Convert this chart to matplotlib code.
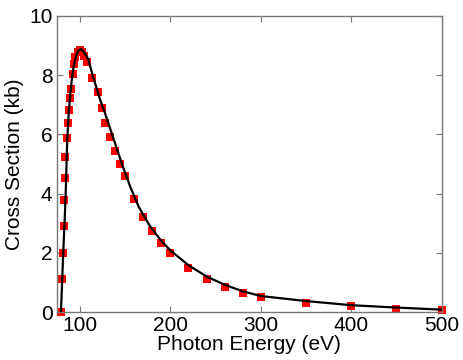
import numpy as np
from matplotlib import pyplot as plt

# measured points (red squares)
energy = [79, 80, 81, 82, 82.7, 83.4, 84, 85.5, 86.5, 87.5, 89, 90.5, 92,
          93.5, 95, 97.5, 100, 102.5, 105, 108, 113, 120, 124, 128, 133,
          139, 144, 150, 160, 170, 180, 190, 200, 220, 240, 260, 280, 300,
          350, 400, 450, 500]
cross_section = [0, 1.13, 2.0, 2.92, 3.79, 4.52, 5.22, 5.87, 6.38, 6.83,
                 7.23, 7.55, 8.03, 8.37, 8.63, 8.80, 8.85, 8.80, 8.65, 8.46,
                 7.92, 7.42, 6.88, 6.37, 5.92, 5.45, 5.0, 4.58, 3.82, 3.2,
                 2.73, 2.34, 2.0, 1.47, 1.11, 0.84, 0.63, 0.50, 0.29, 0.19,
                 0.11, 0.08]

# calculated curve (black line)
curve_energy = [79, 80, 81.5, 83, 84.2, 86, 87.8, 89.3, 90.8, 92.5, 95.2,
                98, 101, 104, 109, 114, 117, 122, 128, 139, 147, 156, 165,
                177, 190, 200, 220, 240, 260, 280, 300, 350, 400, 450, 500]
curve_value = [0, 0.8, 2.0, 3.05, 4.0, 5.9, 6.8, 7.35, 7.81, 8.2, 8.6,
               8.82, 8.88, 8.8, 8.55, 8.0, 7.7, 7.2, 6.69, 5.68, 4.95, 4.2,
               3.55, 2.92, 2.4, 2.08, 1.58, 1.2, 0.92, 0.7, 0.54, 0.37,
               0.23, 0.15, 0.08]

plt.rcParams['font.family'] = ['Liberation Sans', 'DejaVu Sans']

fig = plt.figure(figsize=(4.63, 3.6), dpi=100)
ax = fig.add_axes([0.1225, 0.1333, 0.8315, 0.8223])

ax.plot(energy, cross_section, 's', color='red', markersize=5.8,
        markeredgewidth=0, clip_on=False, zorder=2)
ax.plot(curve_energy, curve_value, '-', color='black', linewidth=1.6,
        zorder=3)

ax.set_xlim(74.3, 500)
ax.set_ylim(0, 10)
ax.set_xticks([100, 200, 300, 400, 500])
ax.set_yticks([0, 2, 4, 6, 8, 10])
ax.set_xlabel('Photon Energy (eV)', fontsize=15, labelpad=0)
ax.set_ylabel('Cross Section (kb)', fontsize=15, labelpad=4)

ax.tick_params(direction='in', length=4, width=0.8, color='#777777',
               labelsize=15, top=True, right=True, pad=3)
for s in ax.spines.values():
    s.set_color('#777777')
    s.set_linewidth(1.0)

fig.savefig('out.png', dpi=100)
